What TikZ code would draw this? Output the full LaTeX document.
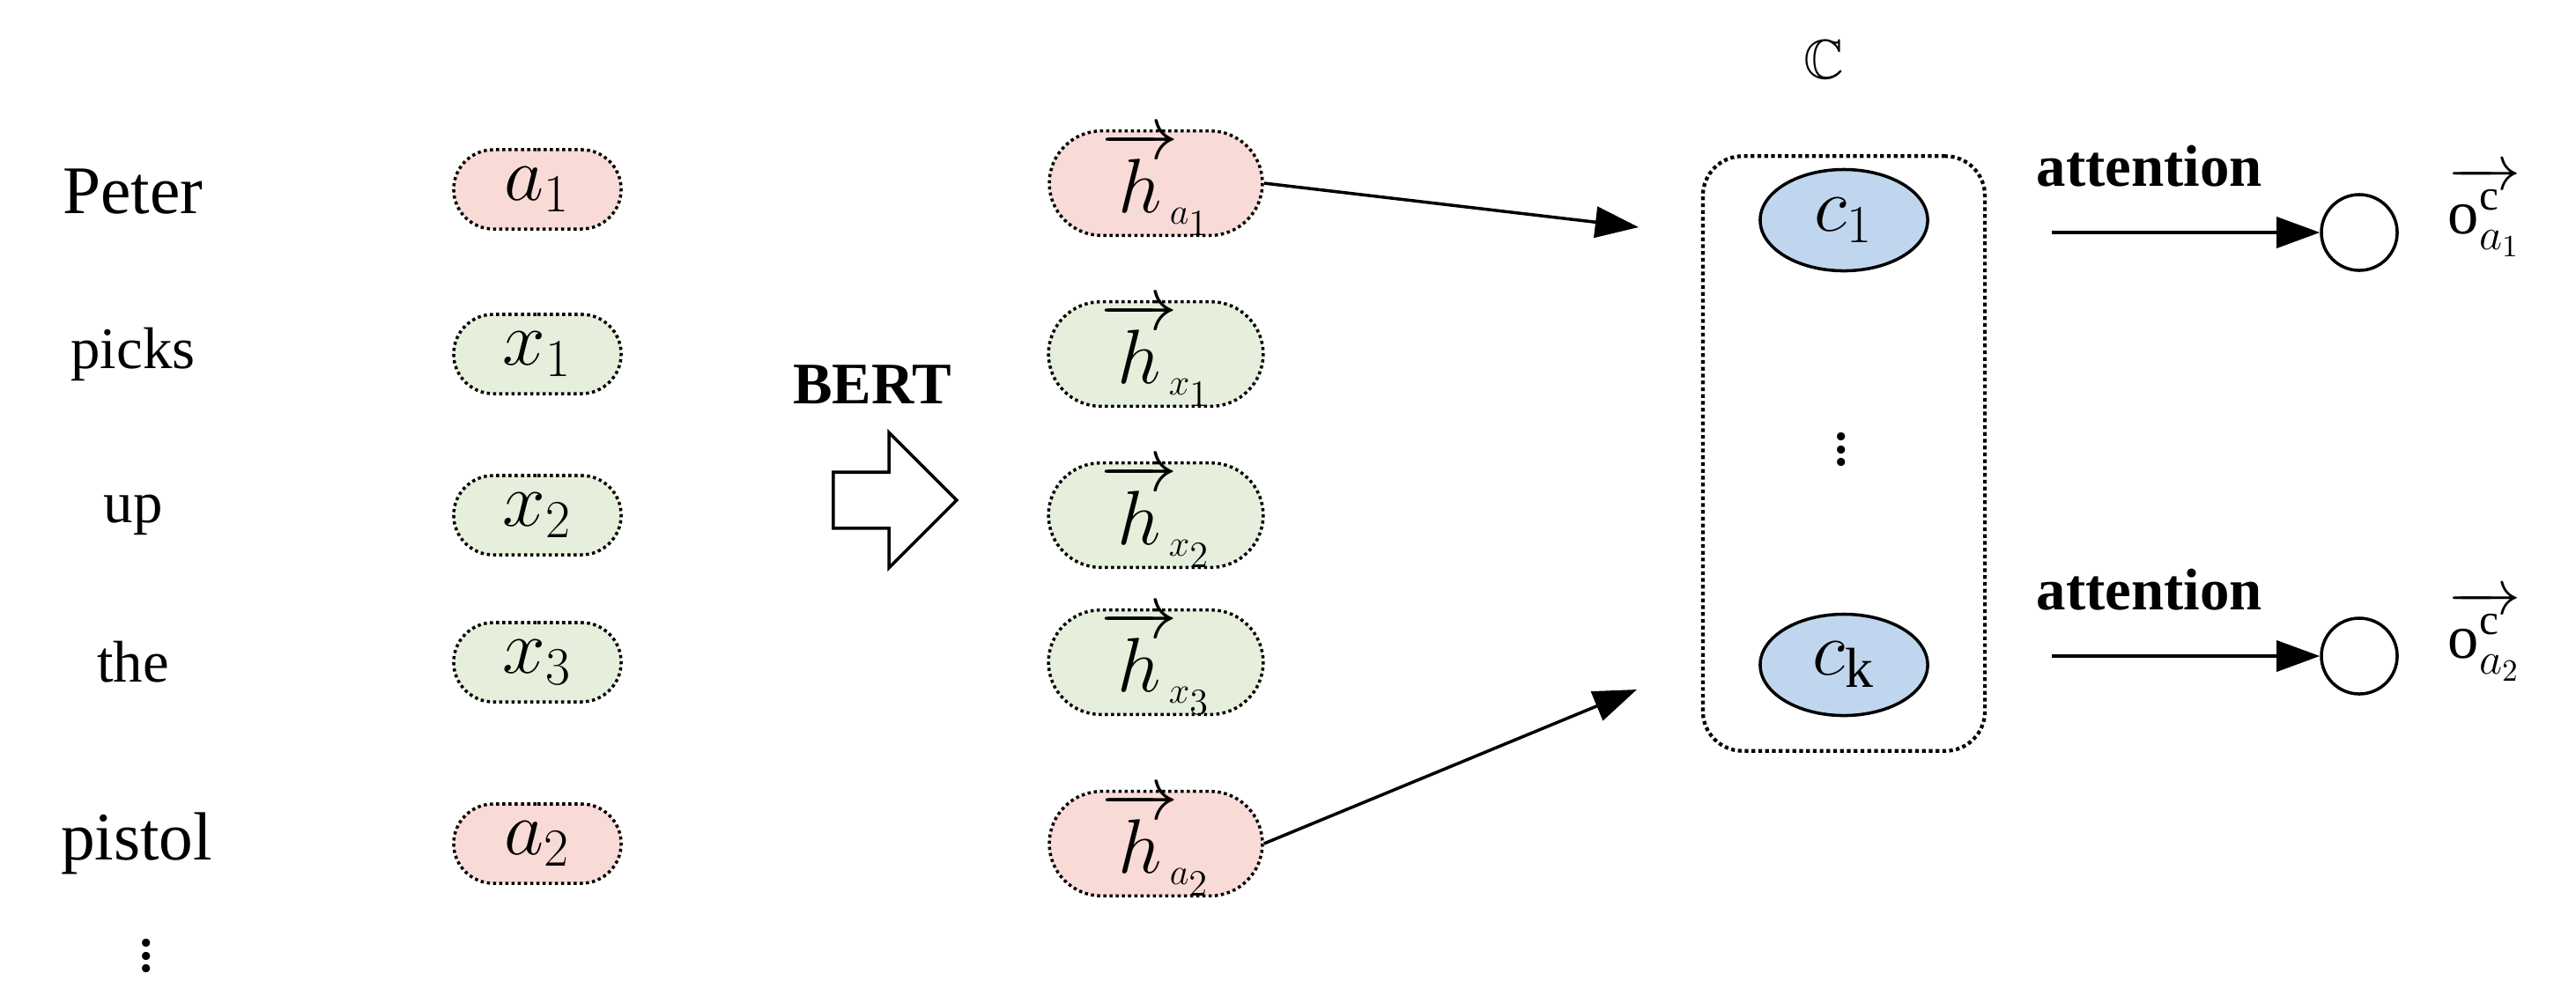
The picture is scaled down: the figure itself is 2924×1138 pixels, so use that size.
\documentclass[tikz,border=0pt]{standalone}
\usepackage{fontspec}
\setmainfont{Liberation Serif}
\usepackage{amsmath,amssymb}
\usetikzlibrary{arrows.meta,shapes.geometric,shapes.arrows,shapes.misc}
\definecolor{pk}{RGB}{248,218,215}
\definecolor{gr}{RGB}{230,239,219}
\definecolor{bl}{RGB}{192,214,238}
\begin{document}
\begin{tikzpicture}[x=0.01cm,y=-0.01cm,
 word/.style={font=\fontsize{22}{24}\selectfont},
 pill/.style={rounded rectangle,draw,densely dotted,line width=1pt,minimum width=1.9cm,minimum height=0.9cm,inner sep=0pt,font=\fontsize{26}{28}\selectfont},
 hpill/.style={pill,minimum width=2.2cm,minimum height=1.0cm,font=\fontsize{24}{26}\selectfont},
 cel/.style={draw,ellipse,fill=bl,line width=1pt,minimum width=1.9cm,minimum height=1.15cm,font=\fontsize{26}{28}\selectfont},
 arr/.style={-{Triangle[length=14pt,width=10pt]},line width=1pt},
 bold/.style={font=\bfseries\fontsize{19}{21}\selectfont}]
\useasboundingbox (0,0) rectangle (2924,1138);
\node[word] (w1) at (151,218) {Peter};
\node[word,font=\fontsize{19}{21}\selectfont] (w2) at (151,402) {picks};
\node[word,font=\fontsize{19}{21}\selectfont] (w3) at (151,585) {up};
\node[word,font=\fontsize{19}{21}\selectfont] (w4) at (151,752) {the};
\node[word] (w5) at (155,958) {pistol};
\node[word] (w6) at (166,1075) {$\vdots$};
\node[pill,fill=pk] (a1) at (610,215) {$a_1$};
\node[pill,fill=gr] (x1) at (610,402) {$x_1$};
\node[pill,fill=gr] (x2) at (610,585) {$x_2$};
\node[pill,fill=gr] (x3) at (610,752) {$x_3$};
\node[pill,fill=pk] (a2) at (610,958) {$a_2$};
\node[hpill,fill=pk] (h1) at (1312,208) {$\overrightarrow{h}_{\!\scriptscriptstyle a_1}$};
\node[hpill,fill=gr] (h2) at (1312,402) {$\overrightarrow{h}_{\!\scriptscriptstyle x_1}$};
\node[hpill,fill=gr] (h3) at (1312,585) {$\overrightarrow{h}_{\!\scriptscriptstyle x_2}$};
\node[hpill,fill=gr] (h4) at (1312,752) {$\overrightarrow{h}_{\!\scriptscriptstyle x_3}$};
\node[hpill,fill=pk] (h5) at (1312,958) {$\overrightarrow{h}_{\!\scriptscriptstyle a_2}$};
\node[bold] (bert) at (990,437) {BERT};
\node[single arrow,draw,line width=1pt,minimum height=1.4cm,inner xsep=0pt,inner ysep=0.3cm,single arrow head extend=0.45cm] (ba) at (1000,568) {};
\node[draw,densely dotted,line width=1.2pt,rounded corners=0.45cm,minimum width=3.2cm,minimum height=6.75cm] (box) at (2093,515) {};
\node[font=\fontsize{18}{20}\selectfont] (C) at (2070,68) {$\mathbb{C}$};
\node[cel] (c1) at (2093,250) {$c_1$};
\node[cel] (ck) at (2093,755) {$c_{\mathrm{k}}$};
\node[font=\fontsize{22}{24}\selectfont] (vd) at (2090,500) {$\vdots$};
\coordinate (t1) at (1860,258);
\coordinate (t2) at (1858,783);
\draw[arr] (h1.east) -- (t1);
\draw[arr] (h5.east) -- (t2);
\node[draw,circle,line width=1pt,minimum size=0.86cm] (o1) at (2678,264) {};
\node[draw,circle,line width=1pt,minimum size=0.86cm] (o2) at (2678,745) {};
\coordinate (s1) at (2329,264);
\coordinate (s2) at (2329,745);
\draw[arr] (s1) -- (o1.west);
\draw[arr] (s2) -- (o2.west);
\node[bold] (at1) at (2440,189) {attention};
\node[bold] (at2) at (2440,670) {attention};
\node[font=\fontsize{20}{22}\selectfont] (ol1) at (2820,240) {$\overrightarrow{\mathrm{o}^{\mathrm{c}}_{a_1}}$};
\node[font=\fontsize{20}{22}\selectfont] (ol2) at (2820,722) {$\overrightarrow{\mathrm{o}^{\mathrm{c}}_{a_2}}$};
\end{tikzpicture}
\end{document}
